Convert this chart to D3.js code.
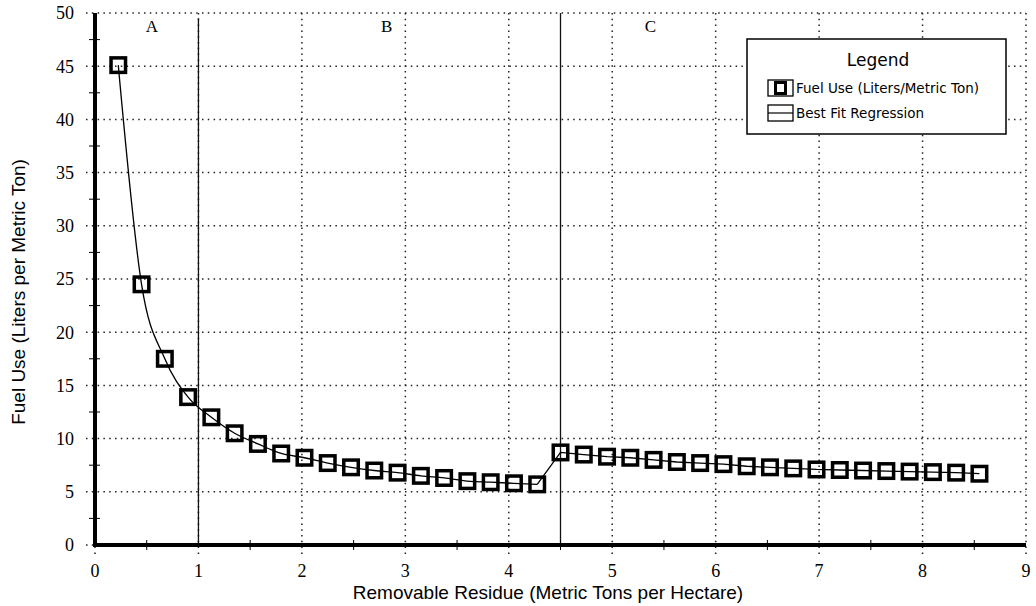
<!DOCTYPE html>
<html>
<head>
<meta charset="utf-8">
<script src="https://cdn.jsdelivr.net/npm/d3@7"></script>
<style>
  body { margin: 0; background: #fff; }
  svg { display: block; }
</style>
</head>
<body>
<svg id="chart"></svg>
<script>
// residue removed (t/ha) and fuel use (L/t) per sample
var residue = [0.225, 0.45, 0.675, 0.9, 1.125, 1.35, 1.575, 1.8, 2.025, 2.25, 2.475, 2.7, 2.925, 3.15, 3.375, 3.6, 3.825, 4.05, 4.275,
    4.5, 4.725, 4.95, 5.175, 5.4, 5.625, 5.85, 6.075, 6.3, 6.525, 6.75, 6.975, 7.2, 7.425, 7.65, 7.875, 8.1, 8.325, 8.55];
var fuel = [45.1, 24.5, 17.5, 13.9, 12.0, 10.5, 9.5, 8.6, 8.2, 7.7, 7.3, 7.0, 6.8, 6.5, 6.3, 6.0, 5.9, 5.8, 5.7,
    8.7, 8.5, 8.3, 8.2, 8.0, 7.8, 7.7, 7.6, 7.4, 7.3, 7.2, 7.1, 7.05, 7.0, 6.95, 6.9, 6.85, 6.8, 6.7];
var boundaries = [1, 4.5];
var regionNames = ["A", "B", "C"];
var regionLabelX = [0.55, 2.82, 5.37];
var xTicks = [0, 1, 2, 3, 4, 5, 6, 7, 8, 9];
var yTicks = [0, 5, 10, 15, 20, 25, 30, 35, 40, 45, 50];
var legendItems = ["Fuel Use (Liters/Metric Ton)", "Best Fit Regression"];

var W = 1036, H = 606;
var margin = { top: 13, right: 10, bottom: 61, left: 95 };

var svg = d3.select("#chart").attr("width", W).attr("height", H);

var x = d3.scaleLinear().domain([0, 9]).range([margin.left, W - margin.right]);
var y = d3.scaleLinear().domain([0, 50]).range([H - margin.bottom, margin.top]);

var data = residue.map(function(d, i) { return { x: d, y: fuel[i] }; });

//dotted grid, sticking out a little past the axes
var grid = svg.append("g").attr("class", "grid");
grid.selectAll(".hgrid")
    .data(yTicks)
    .enter().append("line")
    .attr("x1", x(0) - 9).attr("x2", x(9))
    .attr("y1", function(d) { return y(d); })
    .attr("y2", function(d) { return y(d); })
    .style("stroke", "#222")
    .style("stroke-width", 1.5)
    .style("stroke-dasharray", "1.5,4.3");
grid.selectAll(".vgrid")
    .data(xTicks)
    .enter().append("line")
    .attr("x1", function(d) { return x(d); })
    .attr("x2", function(d) { return x(d); })
    .attr("y1", y(50)).attr("y2", y(0) + 9)
    .style("stroke", "#222")
    .style("stroke-width", 1.5)
    .style("stroke-dasharray", "1.5,4.3");

//region boundaries
svg.selectAll(".boundary")
    .data(boundaries)
    .enter().append("line")
    .attr("x1", function(d) { return x(d); })
    .attr("x2", function(d) { return x(d); })
    .attr("y1", function(d, i) { return i == 0 ? y(49.5) : y(50); })
    .attr("y2", y(0))
    .style("stroke", "#111")
    .style("stroke-width", 1.3);

svg.selectAll(".region")
    .data(regionNames)
    .enter().append("text")
    .attr("x", function(d, i) { return x(regionLabelX[i]); })
    .attr("y", y(48.2))
    .attr("text-anchor", "middle")
    .style("font-family", "Liberation Serif")
    .style("font-size", "17px")
    .text(function(d) { return d; });

//minor ticks at the half steps, crossing the axes
var xMinor = d3.range(0.5, 9, 1), yMinor = d3.range(2.5, 50, 5);
svg.selectAll(".xminor")
    .data(xMinor)
    .enter().append("line")
    .attr("x1", function(d) { return x(d); })
    .attr("x2", function(d) { return x(d); })
    .attr("y1", y(0) - 5).attr("y2", y(0) + 5)
    .style("stroke", "#000").style("stroke-width", 1);
svg.selectAll(".yminor")
    .data(yMinor)
    .enter().append("line")
    .attr("x1", x(0) - 6).attr("x2", x(0) + 5)
    .attr("y1", function(d) { return y(d); })
    .attr("y2", function(d) { return y(d); })
    .style("stroke", "#000").style("stroke-width", 1);

//axis lines
svg.append("line")
    .attr("x1", x(0)).attr("x2", x(0))
    .attr("y1", y(50)).attr("y2", y(0) + 2)
    .style("stroke", "#000").style("stroke-width", 4);
svg.append("line")
    .attr("x1", x(0) - 2).attr("x2", x(9))
    .attr("y1", y(0)).attr("y2", y(0))
    .style("stroke", "#000").style("stroke-width", 4);

//tick labels
svg.selectAll(".xlab")
    .data(xTicks)
    .enter().append("text")
    .attr("x", function(d) { return x(d); })
    .attr("y", y(0) + 32)
    .attr("text-anchor", "middle")
    .style("font-family", "Liberation Serif")
    .style("font-size", "18px")
    .text(function(d) { return d; });
svg.selectAll(".ylab")
    .data(yTicks)
    .enter().append("text")
    .attr("x", x(0) - 21)
    .attr("y", function(d) { return y(d); })
    .attr("dy", "0.35em")
    .attr("text-anchor", "end")
    .style("font-family", "Liberation Serif")
    .style("font-size", "18px")
    .text(function(d) { return d; });

//axis titles
svg.append("text")
    .attr("x", 548)
    .attr("y", H - 7)
    .attr("text-anchor", "middle")
    .style("font-family", "Liberation Sans")
    .style("font-size", "19px")
    .text("Removable Residue (Metric Tons per Hectare)");
svg.append("text")
    .attr("transform", "translate(25," + 292 + ") rotate(-90)")
    .attr("text-anchor", "middle")
    .style("font-family", "Liberation Sans")
    .style("font-size", "19px")
    .text("Fuel Use (Liters per Metric Ton)");

//best fit: smooth through A/B, straight after the jump
var before = data.filter(function(d) { return d.x < boundaries[1]; });
var after = data.filter(function(d) { return d.x >= boundaries[1]; });
var fitCurve = d3.line()
    .x(function(d) { return x(d.x); })
    .y(function(d) { return y(d.y); })
    .curve(d3.curveMonotoneX);
var fitLine = d3.line()
    .x(function(d) { return x(d.x); })
    .y(function(d) { return y(d.y); });
svg.append("path")
    .attr("d", fitCurve(before))
    .style("fill", "none").style("stroke", "#000").style("stroke-width", 1.3);
svg.append("path")
    .attr("d", fitLine([before[before.length - 1]].concat(after)))
    .style("fill", "none").style("stroke", "#000").style("stroke-width", 1.3);

//square markers
var sq = 14.5;
svg.selectAll(".pt")
    .data(data)
    .enter().append("rect")
    .attr("x", function(d) { return x(d.x) - sq / 2; })
    .attr("y", function(d) { return y(d.y) - sq / 2; })
    .attr("width", sq).attr("height", sq)
    .style("fill", "none")
    .style("stroke", "#000")
    .style("stroke-width", 3.5);

//legend
var lg = svg.append("g").attr("transform", "translate(747,39)");
lg.append("rect")
    .attr("width", 259).attr("height", 95)
    .style("fill", "#fff").style("stroke", "#000").style("stroke-width", 1.5);
lg.append("text")
    .attr("x", 131).attr("y", 27)
    .attr("text-anchor", "middle")
    .style("font-family", "DejaVu Sans")
    .style("font-size", "17px")
    .text("Legend");
var items = lg.selectAll(".item")
    .data(legendItems)
    .enter().append("g")
    .attr("transform", function(d, i) { return "translate(21," + (41 + i * 25) + ")"; });
items.append("rect")
    .attr("width", 25).attr("height", 16)
    .style("fill", "#fff").style("stroke", "#000").style("stroke-width", 1.3);
items.filter(function(d, i) { return i == 0; })
    .append("rect")
    .attr("x", 7.5).attr("y", 2.5).attr("width", 10).attr("height", 11)
    .style("fill", "none").style("stroke", "#000").style("stroke-width", 3);
items.filter(function(d, i) { return i == 1; })
    .append("line")
    .attr("x1", 0).attr("x2", 25).attr("y1", 8).attr("y2", 8)
    .style("stroke", "#000").style("stroke-width", 1.2);
items.append("text")
    .attr("x", 28).attr("y", 8).attr("dy", "0.35em")
    .style("font-family", "DejaVu Sans")
    .style("font-size", "13.5px")
    .text(function(d) { return d; });
</script>
</body>
</html>
